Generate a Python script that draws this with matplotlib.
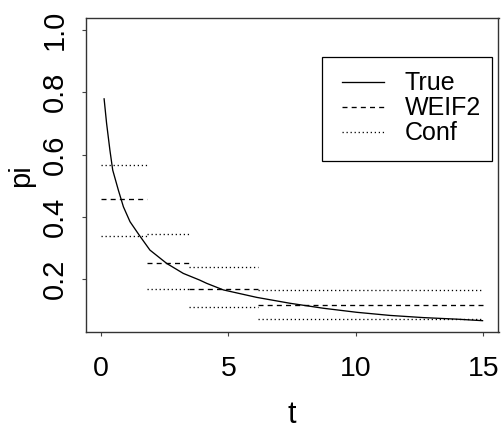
import matplotlib
matplotlib.use("Agg")
import matplotlib.pyplot as plt
from matplotlib.transforms import Affine2D
from matplotlib.patches import Rectangle

plt.rcParams['font.family'] = ['Liberation Sans', 'DejaVu Sans']
plt.rcParams['lines.scale_dashes'] = False

# ---- data ----
t_true = [0.12, 0.22, 0.35, 0.46, 0.68, 0.88, 1.14, 1.50, 1.92, 2.58, 3.23,
          3.86, 4.15, 4.80, 6.11, 7.42, 8.73, 10.04, 11.34, 12.65, 13.96, 15.0]
pi_true = [0.781, 0.700, 0.614, 0.550, 0.486, 0.432, 0.384, 0.341, 0.293, 0.250, 0.218,
           0.197, 0.186, 0.165, 0.141, 0.122, 0.106, 0.093, 0.083, 0.076, 0.071, 0.066]

breaks = [0.0, 1.82, 3.46, 6.17, 15.0]
weif2 = [0.456, 0.252, 0.168, 0.118]
conf_upper = [0.566, 0.345, 0.237, 0.165]
conf_lower = [0.338, 0.169, 0.109, 0.0715]

xticks = [0, 5, 10, 15]
yticks = [0.2, 0.4, 0.6, 0.8, 1.0]
legend_labels = ['True', 'WEIF2', 'Conf']

W, H = 502, 432
fig = plt.figure(figsize=(W / 100, H / 100), dpi=100)
ax = fig.add_axes([85.7 / W, (H - 332.35) / H, 412.8 / W, 313.95 / H])

DASH = (0, (3.6, 3.0))
DOT = (0, (0.9, 2.0))
LW = 0.95

ax.plot(t_true, pi_true, color='black', lw=LW, solid_capstyle='butt')
ax.hlines(weif2, breaks[:-1], breaks[1:], colors='black', linestyles=[DASH], lw=LW)
ax.hlines(conf_upper, breaks[:-1], breaks[1:], colors='black', linestyles=[DOT], lw=LW)
ax.hlines(conf_lower, breaks[:-1], breaks[1:], colors='black', linestyles=[DOT], lw=LW)

ax.set_xlim(-0.6, 15.6)
ax.set_ylim(0.0286, 1.0374)
ax.set_xticks(xticks)
ax.set_xticklabels([str(v) for v in xticks])
ax.set_yticks(yticks)
ax.set_yticklabels([f"{v:.1f}" for v in yticks])

for s in ax.spines.values():
    s.set_linewidth(1.0)
    s.set_color('#333333')
ax.tick_params(axis='both', direction='out', length=3.0, width=0.8, color='#444444',
               labelcolor='black')
ax.tick_params(axis='x', pad=14, labelsize=20.5)
ax.tick_params(axis='y', pad=9, labelrotation=90, labelsize=21)
for lab in ax.get_yticklabels():
    lab.set_verticalalignment('center')

ax.set_xlabel('t', fontsize=22, labelpad=13)
ax.set_ylabel('pi', fontsize=21, labelpad=4)

# ---- legend drawn in pixel coordinates (y from top) ----
T = Affine2D().scale(1 / W, -1 / H).translate(0, 1) + fig.transFigure
fig.add_artist(Rectangle((321.7, 57.3), 170.0, 103.4, transform=T, fill=False,
                         edgecolor='black', lw=0.9))
styles = ['-', DASH, DOT]
ys = [82.3, 107.0, 131.7]
for lab, st, yy in zip(legend_labels, styles, ys):
    fig.add_artist(plt.Line2D([341.7, 384.0], [yy, yy], transform=T, color='black',
                              lw=LW, linestyle=st))
    fig.text(405.0, yy + 1, lab, transform=T, fontsize=18, va='center', ha='left')

fig.savefig('out.png', dpi=100)
